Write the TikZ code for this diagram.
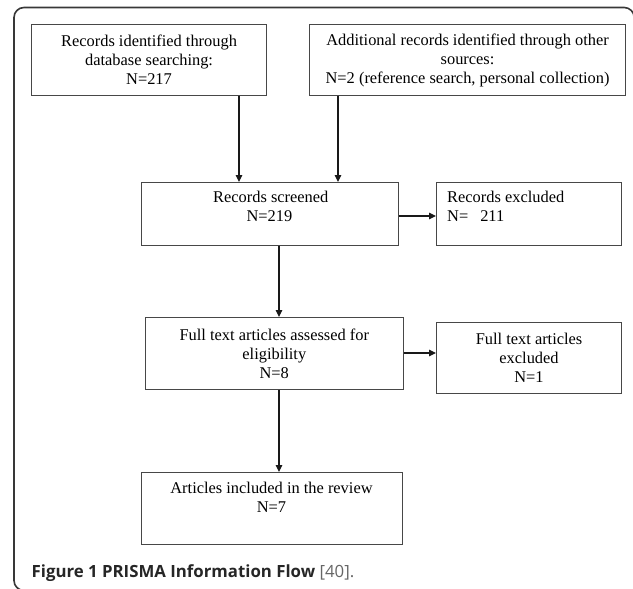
\documentclass[tikz,border=0pt]{standalone}
\usepackage{fontspec}
\setmainfont{Liberation Serif}
\newfontfamily\capfont{Open Sans}
\usetikzlibrary{arrows.meta}
\begin{document}
\begin{tikzpicture}[x=1pt,y=-1pt,
  box/.style={draw=black!72, line width=1.1pt, inner sep=0pt, anchor=north west, align=center, font=\fontsize{16.4}{19}\selectfont},
  txt/.style={inner sep=0pt, font=\fontsize{16.4}{19}\selectfont},
  arr/.style={draw=black!90, line width=1.1pt, -{Triangle[length=7pt,width=6.5pt]}},
  outerframe/.style={draw=black!78, line width=1.6pt, rounded corners=10pt}]
\useasboundingbox (0,0) rectangle (633,589);
\draw[outerframe] (634.2,40) -- (634.2,7.5) -- (14,7.5) -- (14,590.5) -- (650,590.5);
% boxes
\node[box, minimum width=235pt, minimum height=71pt] (b1) at (31,24)
  {Records identified through\\database searching:\\N=217};
\node[box, minimum width=316pt, minimum height=71pt] (b2) at (309,24)
  {Additional records identified through other\\sources:\\N=2 (reference search, personal collection)};
\node[box, minimum width=257pt, minimum height=63pt] (scr) at (141,182) {};
\node[txt, anchor=base west] (scr1) at (213,202) {Records screened};
\node[txt, anchor=base] (scr2) at (269.5,221) {N=219};
\node[box, minimum width=185pt, minimum height=63pt] (exc) at (436,182) {};
\node[txt, anchor=base west] (exc1) at (447,202) {Records excluded};
\node[txt, anchor=base west] (exc2) at (447,221) {N=\hspace{12pt}211};
\node[box, minimum width=257.5pt, minimum height=72pt] (ft) at (145,317)
  {Full text articles assessed for\\eligibility\\N=8};
\node[box, minimum width=185pt, minimum height=71pt] (fte) at (436,322)
  {Full text articles\\excluded\\N=1};
\node[box, minimum width=261pt, minimum height=72pt] (art) at (141,472) {};
\node[txt, anchor=base] (art1) at (271.5,493) {Articles included in the review};
\node[txt, anchor=base] (art2) at (271.5,512) {N=7};
% helper coordinates
\coordinate (xa) at (239,0);
\coordinate (xb) at (338,0);
\coordinate (xc) at (279,0);
\coordinate (ya) at (0,216);
\coordinate (yb) at (0,353);
% connectors
\draw[arr] (b1.south -| xa) -- (scr.north -| xa);
\draw[arr] (b2.south -| xb) -- (scr.north -| xb);
\draw[arr] (scr.east |- ya) -- (exc.west |- ya);
\draw[arr] (scr.south -| xc) -- (ft.north -| xc);
\draw[arr] (ft.east |- yb) -- (fte.west |- yb);
\draw[arr] (ft.south -| xc) -- (art.north -| xc);
% caption
\node[inner sep=0pt, anchor=base west] (cap) at (31.5,577)
  {\capfont\fontsize{16.8}{20}\selectfont\textcolor{black!85}{\bfseries Figure 1 PRISMA Information Flow} \textcolor{black!60}{[40].}};
\end{tikzpicture}
\end{document}
